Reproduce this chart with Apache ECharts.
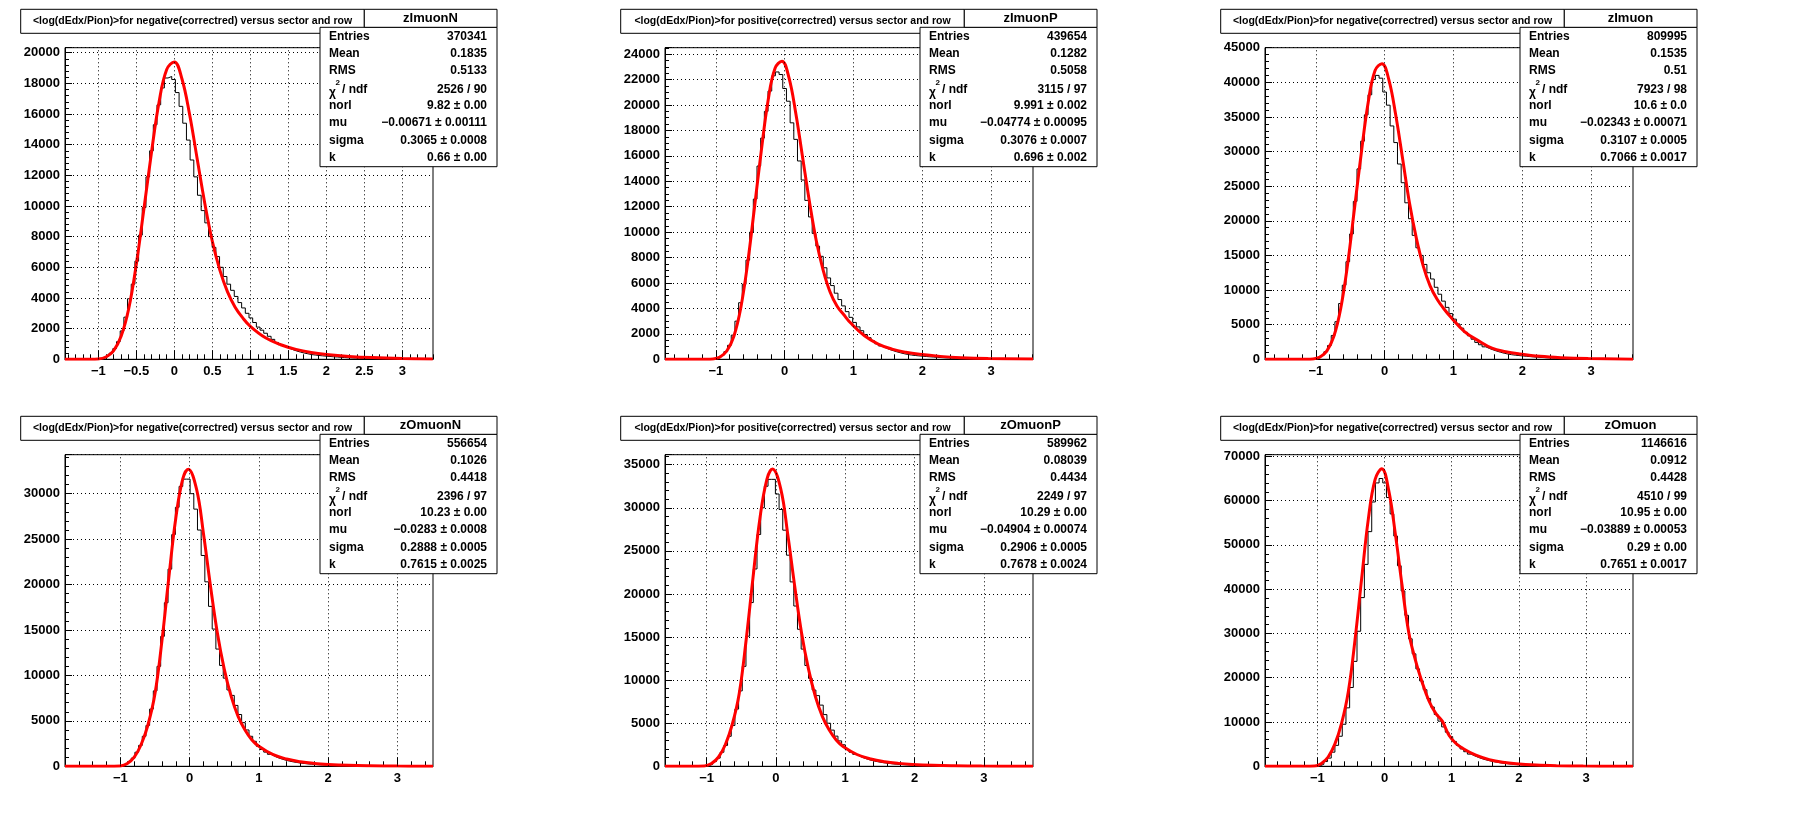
<!DOCTYPE html>
<html>
<head>
<meta charset="utf-8">
<script src="https://cdn.jsdelivr.net/npm/echarts@6/dist/echarts.min.js"></script>
<style>
  html, body { margin: 0; padding: 0; background: #fff; }
  #main { width: 1800px; height: 814px; }
</style>
</head>
<body>
<div id="main"></div>
<script>
// 六个直方图 + 拟合曲线

const HIST_ZIMUONN = [0,0,0,0,0,0,0,0,0,
  20,90,220,400,700,1150,1850,2750,3950,4900,
  6400,8100,9900,11900,13600,15300,16600,17700,18350,18450,
  18250,17400,16500,15400,14300,13000,11900,10700,9700,8900,
  8000,7300,6700,6000,5400,4900,4500,4100,3700,3350,
  3000,2700,2400,2100,1900,1700,1500,1300,1100,950,
  820,720,620,540,470,410,360,310,280,250,
  225,205,185,165,150,130,115,100,90,80,
  70,62,55,48,42,36,30,26,22,18,
  15,12,10,8,6,5,4,3,2,2,1];
const HIST_ZIMUONP = [0,0,0,0,0,0,0,0,0,0,0,0,0,
  25,120,300,600,1100,1900,3000,4450,5900,7800,
  10000,12600,15200,17400,19500,21100,22300,22600,22400,21300,
  20300,18600,17300,15600,14100,12500,11200,9900,8900,8100,
  7200,6400,5800,5200,4700,4200,3750,3300,2900,2550,
  2250,1950,1700,1450,1220,1050,900,780,680,590,
  510,440,380,335,300,270,245,220,196,176,
  155,135,118,105,92,80,70,61,53,46,
  39,33,27,23,19,15,12,10,8,6,5,4,3,3,2,1,1];
const HIST_ZIMUON = [0,0,0,0,0,0,0,0,0,0,0,0,0,
  45,220,540,1090,1990,3440,5430,8050,10700,14100,
  18100,22800,27500,31500,35300,38200,40400,41000,40600,38600,
  36700,33700,31300,28200,25500,22600,20300,17900,16100,15000,
  13700,12500,11600,10400,9400,8400,7500,6600,5800,5100,
  4500,3900,3400,2900,2440,2100,1800,1560,1360,1180,
  1020,880,760,670,600,540,490,440,390,350,
  310,270,236,210,184,160,140,122,106,92,
  78,66,54,46,38,30,24,20,16,12,10,8,6,6,4,2,2];
const HIST_ZOMUONN = [0,0,0,0,0,0,0,0,0,0,0,0,0,0,0,
  60,230,520,900,1550,2300,3300,4500,6300,8300,
  11000,14300,18000,21700,25500,28500,30800,31600,31600,30000,
  28300,26000,23200,20300,17600,15100,12900,11100,9700,8400,
  7800,6700,5700,4800,4000,3300,2750,2200,1850,1560,
  1320,1100,930,790,670,570,490,420,360,310,
  265,230,200,175,150,130,112,96,82,70,
  60,51,44,38,32,27,23,19,16,13,11,
  9,8,6,5,4,4,3,2,2,1,1,1,0,0];
const HIST_ZOMUONP = [0,0,0,0,0,0,0,0,0,0,0,
  65,240,550,950,1630,2420,3480,4740,6640,8750,
  11600,15100,19000,22900,26900,30000,32500,33300,33300,31600,
  29800,27400,24500,21400,18600,15900,13600,11700,10200,8850,
  8200,7100,6000,5000,4200,3500,2950,2500,1950,1640,
  1390,1160,980,830,710,600,520,440,380,330,
  280,240,210,185,160,137,118,101,86,74,
  63,54,46,40,34,28,24,20,17,14,12,
  9,8,6,5,4,4,3,2,2,1,1,1,0,0,0,0,0,0];
const HIST_ZOMUON = [0,0,0,0,0,0,0,0,0,0,0,0,0,0,
  120,470,1070,1850,3190,4730,6790,9500,13200,17800,
  23700,30500,38100,45600,53000,59700,64000,65000,64000,60700,
  57000,52000,45300,39600,34100,28800,25400,22000,19300,17300,
  15300,13400,11700,10200,8900,7700,6700,5600,4730,3930,
  3300,2750,2360,2010,1710,1470,1260,1080,920,780,
  680,590,500,420,360,300,255,218,180,150,
  126,105,87,72,60,50,40,33,27,
  21,18,14,12,9,8,6,6,5,3,3,3,2,2,1,1,0];

const FIT_ZIMUONN = [[-1.44,0],[-1.1,0],[-1.0,20],[-0.9,150],[-0.8,550],[-0.7,1500],[-0.6,3300],[-0.5,6200],[-0.4,9800],[-0.3,13500],[-0.2,16800],[-0.1,18900],[0,19400],[0.1,18300],[0.2,16000],[0.3,13100],[0.4,10200],[0.5,7700],[0.6,5800],[0.7,4400],[0.8,3400],[0.9,2700],[1.0,2150],[1.2,1400],[1.4,950],[1.6,650],[1.8,450],[2.0,320],[2.3,190],[2.6,110],[3.0,50],[3.4,20]];
const FIT_ZIMUONP = [[-1.74,0],[-1.14,0],[-1.04,25],[-0.94,180],[-0.84,670],[-0.74,1800],[-0.64,4000],[-0.54,7500],[-0.44,11900],[-0.34,16400],[-0.24,20400],[-0.14,22900],[-0.04,23450],[0.06,22200],[0.16,19400],[0.26,15900],[0.36,12400],[0.46,9300],[0.56,7000],[0.66,5300],[0.76,4200],[0.86,3500],[0.96,2850],[1.16,1850],[1.36,1200],[1.56,800],[1.76,550],[1.96,390],[2.26,230],[2.56,130],[2.96,60],[3.61,15]];
const FIT_ZIMUON = [[-1.74,0],[-1.14,0],[-1.04,45],[-0.94,330],[-0.84,1220],[-0.74,3280],[-0.64,7300],[-0.54,13650],[-0.44,21700],[-0.34,29800],[-0.24,37100],[-0.14,41700],[-0.04,42700],[0.06,40400],[0.16,35300],[0.26,29000],[0.36,22600],[0.46,17500],[0.56,13500],[0.66,10600],[0.76,8700],[0.86,7300],[0.96,6100],[1.16,4000],[1.36,2700],[1.56,1600],[1.76,1100],[1.96,780],[2.26,430],[2.56,240],[2.96,110],[3.61,25]];
const FIT_ZOMUONN = [[-1.8,0],[-1.2,0],[-1.0,40],[-0.9,300],[-0.8,1000],[-0.7,2400],[-0.6,4600],[-0.5,8000],[-0.4,13800],[-0.3,20800],[-0.2,27300],[-0.1,31600],[-0.02,32700],[0.1,30500],[0.2,25600],[0.3,19900],[0.4,14700],[0.5,10700],[0.6,7700],[0.7,5500],[0.8,4000],[0.9,2900],[1.0,2200],[1.2,1300],[1.4,800],[1.6,500],[1.8,320],[2.0,210],[2.3,110],[2.6,60],[3.0,25],[3.515,8]];
const FIT_ZOMUONP = [[-1.6,0],[-1.23,0],[-1.03,40],[-0.93,320],[-0.83,1050],[-0.73,2500],[-0.63,4850],[-0.53,8400],[-0.43,14600],[-0.33,21900],[-0.23,28800],[-0.13,33300],[-0.05,34500],[0.07,32200],[0.17,27000],[0.27,21000],[0.37,15500],[0.47,11300],[0.57,8100],[0.67,5800],[0.77,4200],[0.87,3050],[0.97,2300],[1.17,1370],[1.37,840],[1.57,530],[1.77,340],[1.97,220],[2.27,115],[2.57,63],[2.97,26],[3.71,6]];
const FIT_ZOMUON = [[-1.78,0],[-1.2,0],[-1.04,60],[-0.94,650],[-0.84,2100],[-0.74,5000],[-0.64,9700],[-0.54,16800],[-0.44,28500],[-0.34,42500],[-0.24,56000],[-0.14,64800],[-0.04,67200],[0.06,62500],[0.16,52600],[0.26,41000],[0.36,30300],[0.46,24000],[0.56,19000],[0.66,14800],[0.76,12000],[0.86,10200],[0.96,7000],[1.06,5200],[1.16,4100],[1.36,2500],[1.56,1500],[1.76,900],[1.96,560],[2.26,280],[2.56,140],[2.96,60],[3.70,15]];

const STAT_LABELS = ['Entries', 'Mean', 'RMS', 'CHI', 'norl', 'mu', 'sigma', 'k'];
const STATS_ZIMUONN = ['370341', '0.1835', '0.5133', '2526 / 90', '9.82 ± 0.00', '−0.00671 ± 0.00111', '0.3065 ± 0.0008', '0.66 ± 0.00'];
const STATS_ZIMUONP = ['439654', '0.1282', '0.5058', '3115 / 97', '9.991 ± 0.002', '−0.04774 ± 0.00095', '0.3076 ± 0.0007', '0.696 ± 0.002'];
const STATS_ZIMUON = ['809995', '0.1535', '0.51', '7923 / 98', '10.6 ± 0.0', '−0.02343 ± 0.00071', '0.3107 ± 0.0005', '0.7066 ± 0.0017'];
const STATS_ZOMUONN = ['556654', '0.1026', '0.4418', '2396 / 97', '10.23 ± 0.00', '−0.0283 ± 0.0008', '0.2888 ± 0.0005', '0.7615 ± 0.0025'];
const STATS_ZOMUONP = ['589962', '0.08039', '0.4434', '2249 / 97', '10.29 ± 0.00', '−0.04904 ± 0.00074', '0.2906 ± 0.0005', '0.7678 ± 0.0024'];
const STATS_ZOMUON = ['1146616', '0.0912', '0.4428', '4510 / 99', '10.95 ± 0.00', '−0.03889 ± 0.00053', '0.29 ± 0.00', '0.7651 ± 0.0017'];

const TITLE_NEG = '<log(dEdx/Pion)>for negative(correctred) versus sector and row';
const TITLE_POS = '<log(dEdx/Pion)>for positive(correctred) versus sector and row';

const XTICKS_HALF = [-1, -0.5, 0, 0.5, 1, 1.5, 2, 2.5, 3];
const XTICKS_ONE = [-1, 0, 1, 2, 3];

const panels = [
  { name: 'zImuonN', title: TITLE_NEG, col: 0, row: 0, xMin: -1.438, xMax: 3.403, yMax: 20326, yStep: 2000, ySplit: 5, xTicks: XTICKS_HALF, xMinor: 0.1, hist: HIST_ZIMUONN, fit: FIT_ZIMUONN, stats: STATS_ZIMUONN },
  { name: 'zImuonP', title: TITLE_POS, col: 1, row: 0, xMin: -1.74, xMax: 3.61, yMax: 24510, yStep: 2000, ySplit: 4, xTicks: XTICKS_ONE, xMinor: 0.2, hist: HIST_ZIMUONP, fit: FIT_ZIMUONP, stats: STATS_ZIMUONP },
  { name: 'zImuon', title: TITLE_NEG, col: 2, row: 0, xMin: -1.74, xMax: 3.61, yMax: 45000, yStep: 5000, ySplit: 5, xTicks: XTICKS_ONE, xMinor: 0.2, hist: HIST_ZIMUON, fit: FIT_ZIMUON, stats: STATS_ZIMUON },
  { name: 'zOmuonN', title: TITLE_NEG, col: 0, row: 1, xMin: -1.80, xMax: 3.515, yMax: 34290, yStep: 5000, ySplit: 5, xTicks: XTICKS_ONE, xMinor: 0.2, hist: HIST_ZOMUONN, fit: FIT_ZOMUONN, stats: STATS_ZOMUONN },
  { name: 'zOmuonP', title: TITLE_POS, col: 1, row: 1, xMin: -1.60, xMax: 3.71, yMax: 36160, yStep: 5000, ySplit: 5, xTicks: XTICKS_ONE, xMinor: 0.2, hist: HIST_ZOMUONP, fit: FIT_ZOMUONP, stats: STATS_ZOMUONP },
  { name: 'zOmuon', title: TITLE_NEG, col: 2, row: 1, xMin: -1.78, xMax: 3.70, yMax: 70376, yStep: 10000, ySplit: 5, xTicks: XTICKS_ONE, xMinor: 0.2, hist: HIST_ZOMUON, fit: FIT_ZOMUON, stats: STATS_ZOMUON }
];

const PAD_W = 600, PAD_H = 407;
const FONT = '"Liberation Sans", Arial, sans-serif';
const minus = v => String(v).replace('-', '−');

const grid = [], xAxis = [], yAxis = [], series = [], graphic = [];

panels.forEach((p, k) => {
  const ox = p.col * PAD_W, oy = p.row * PAD_H;
  grid.push({
    left: ox + 65, top: oy + 47.7, width: 368, height: 311.6,
    show: true, borderColor: '#000', borderWidth: 1, backgroundColor: 'transparent'
  });

  // 次刻度
  const minor = [];
  const start = Math.ceil(p.xMin / p.xMinor);
  for (let t = start; t * p.xMinor <= p.xMax; t++) minor.push(+(t * p.xMinor).toFixed(4));

  xAxis.push({
    type: 'value', gridIndex: k, min: p.xMin, max: p.xMax,
    axisLine: { onZero: false, lineStyle: { color: '#000', width: 1 } },
    axisTick: { inside: true, length: 9, customValues: p.xTicks, lineStyle: { color: '#000' } },
    axisLabel: {
      customValues: p.xTicks, color: '#000', fontFamily: FONT, fontWeight: 'bold', fontSize: 13, margin: 6,
      formatter: v => minus(v)
    },
    splitLine: { show: false }
  });
  xAxis.push({
    type: 'value', gridIndex: k, min: p.xMin, max: p.xMax, position: 'bottom',
    axisLine: { show: false, onZero: false },
    axisTick: { inside: true, length: 5, customValues: minor, lineStyle: { color: '#000' } },
    axisLabel: { show: false }, splitLine: { show: false }
  });
  yAxis.push({
    type: 'value', gridIndex: k, min: 0, max: p.yMax, interval: p.yStep,
    axisLine: { show: true, onZero: false, lineStyle: { color: '#000', width: 1 } },
    axisTick: { show: true, inside: true, length: 7, lineStyle: { color: '#000' } },
    minorTick: { show: true, splitNumber: p.ySplit, length: 4, lineStyle: { color: '#000' } },
    axisLabel: {
      color: '#000', fontFamily: FONT, fontWeight: 'bold', fontSize: 13, margin: 5,
      showMaxLabel: true, formatter: v => (v % p.yStep === 0 ? String(v) : '')
    },
    splitLine: { show: true, lineStyle: { color: '#000', type: [1, 3], width: 1 } }
  });

  const w = (p.xMax - p.xMin) / p.hist.length;
  const hdata = p.hist.map((v, i) => [p.xMin + i * w, v]);
  hdata.push([p.xMax, p.hist[p.hist.length - 1]]);

  series.push({
    type: 'line', xAxisIndex: 2 * k, yAxisIndex: k, data: hdata, step: 'end',
    symbol: 'none', silent: true, z: 3,
    lineStyle: { color: '#000', width: 1 },
    markLine: {
      silent: true, symbol: 'none', label: { show: false },
      lineStyle: { color: '#000', type: [1, 3], width: 1 },
      data: p.xTicks.map(v => ({ xAxis: v }))
    }
  });
  series.push({
    type: 'line', xAxisIndex: 2 * k, yAxisIndex: k, data: p.fit, smooth: 0.4,
    symbol: 'none', silent: true, z: 4,
    lineStyle: { color: '#ff0000', width: 3 }
  });

  // 标题框
  graphic.push({ type: 'rect', z: 10, shape: { x: ox + 20.7, y: oy + 9.3, width: 343.6, height: 24 },
    style: { fill: '#fff', stroke: '#000', lineWidth: 1 } });
  graphic.push({ type: 'text', z: 11, x: ox + 192.5, y: oy + 21.3,
    style: { text: p.title, fill: '#000', font: 'bold 10.5px ' + FONT, textAlign: 'center', textVerticalAlign: 'middle' } });

  // 统计框
  graphic.push({ type: 'rect', z: 10, shape: { x: ox + 320, y: oy + 27.3, width: 177, height: 139.4 },
    style: { fill: '#fff', stroke: '#000', lineWidth: 1 } });
  graphic.push({ type: 'rect', z: 10, shape: { x: ox + 364.3, y: oy + 9.3, width: 132.7, height: 18 },
    style: { fill: '#fff', stroke: '#000', lineWidth: 1 } });
  graphic.push({ type: 'text', z: 11, x: ox + 430.5, y: oy + 18.3,
    style: { text: p.name, fill: '#000', font: 'bold 13px ' + FONT, textAlign: 'center', textVerticalAlign: 'middle' } });

  const rowsY = [36.7, 53.7, 70.7, 90, 105.7, 122.7, 140.7, 157.7];
  STAT_LABELS.forEach((lab, j) => {
    const y = oy + rowsY[j];
    if (lab === 'CHI') {
      graphic.push({ type: 'text', z: 11, x: ox + 329, y: y + 3,
        style: { text: 'χ', fill: '#000', font: 'bold 12px ' + FONT, textVerticalAlign: 'middle' } });
      graphic.push({ type: 'text', z: 11, x: ox + 335.5, y: y - 7,
        style: { text: '2', fill: '#000', font: 'bold 8px ' + FONT, textVerticalAlign: 'middle' } });
      graphic.push({ type: 'text', z: 11, x: ox + 342, y: y,
        style: { text: '/ ndf', fill: '#000', font: 'bold 12px ' + FONT, textVerticalAlign: 'middle' } });
    } else {
      graphic.push({ type: 'text', z: 11, x: ox + 329, y: y,
        style: { text: lab, fill: '#000', font: 'bold 12px ' + FONT, textVerticalAlign: 'middle' } });
    }
    graphic.push({ type: 'text', z: 11, x: ox + 487, y: y,
      style: { text: p.stats[j], fill: '#000', font: 'bold 12px ' + FONT, textAlign: 'right', textVerticalAlign: 'middle' } });
  });
});

const chart = echarts.init(document.getElementById('main'));
chart.setOption({
  backgroundColor: '#fff',
  animation: false,
  grid, xAxis, yAxis, series, graphic
});
</script>
</body>
</html>
